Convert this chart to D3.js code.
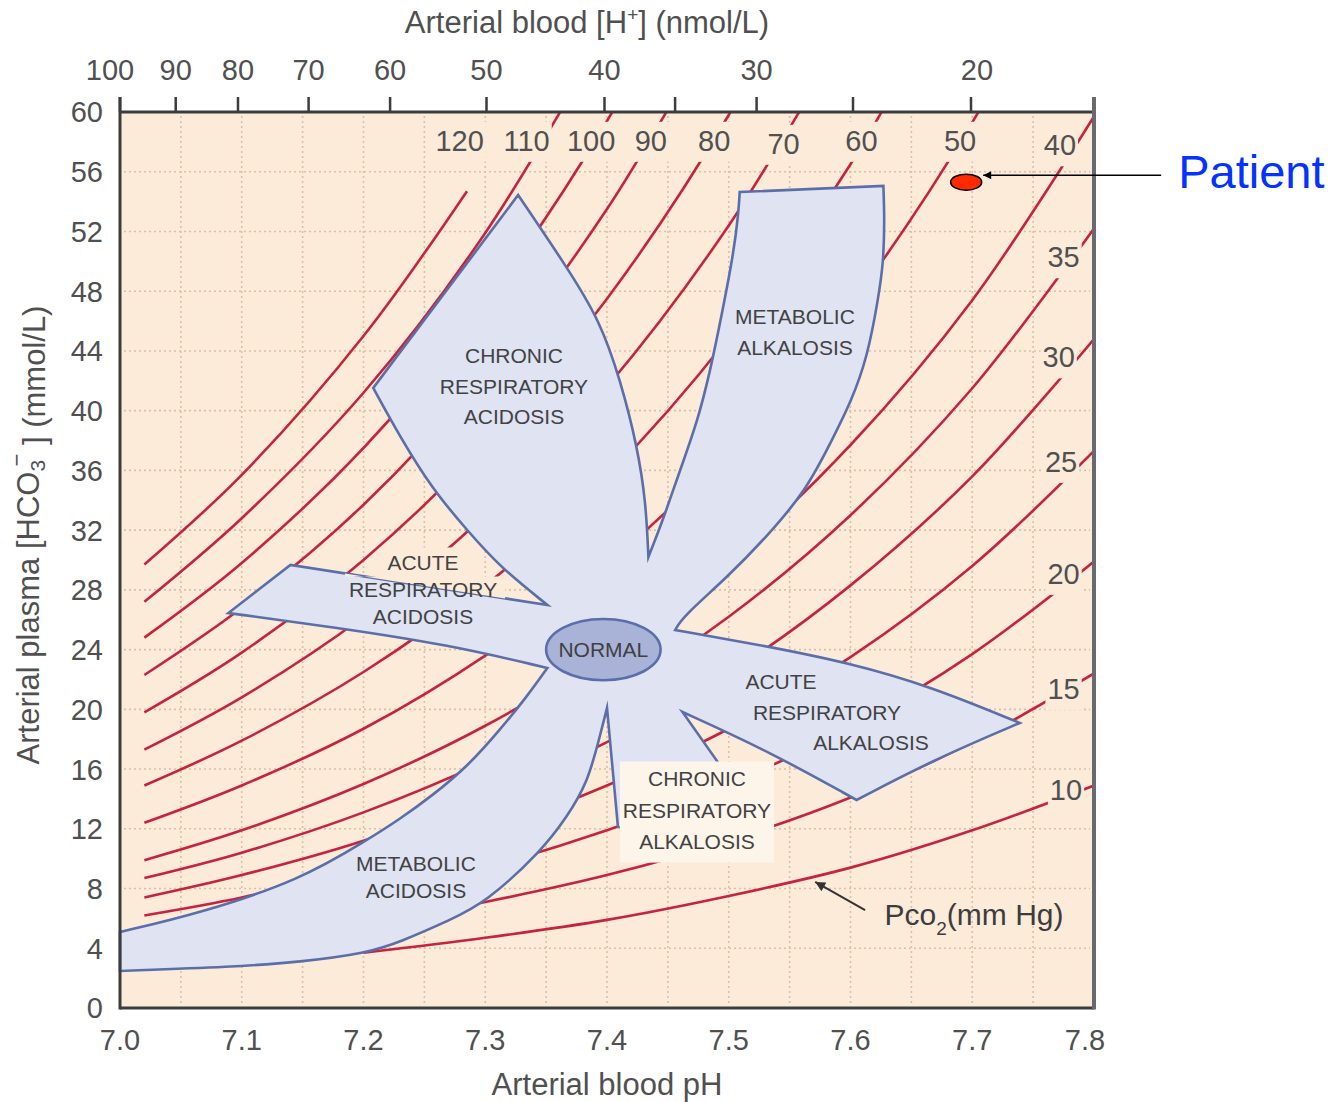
<!DOCTYPE html>
<html>
<head>
<meta charset="utf-8">
<script src="https://cdn.jsdelivr.net/npm/d3@7"></script>
<style>
body { margin: 0; background: #fff; }
svg { display: block; font-family: "Liberation Sans", Arial, sans-serif; }
</style>
</head>
<body>
<svg id="chart" width="1333" height="1102"></svg>
<script>

// ---- axis ticks ----
var phTicks = [7.0, 7.1, 7.2, 7.3, 7.4, 7.5, 7.6, 7.7, 7.8];
var hco3Ticks = [0, 4, 8, 12, 16, 20, 24, 28, 32, 36, 40, 44, 48, 52, 56, 60];
var hTicks = [100, 90, 80, 70, 60, 50, 40, 30, 20];
var hMinorTicks = [35, 25];
var gridPH = [7.05, 7.10, 7.15, 7.20, 7.25, 7.30, 7.35, 7.40, 7.45, 7.50, 7.55, 7.60, 7.65, 7.70, 7.75];
var gridHCO3 = [4, 8, 12, 16, 20, 24, 28, 32, 36, 40, 44, 48, 52, 56];

// ---- Pco2 isopleths, [pH, HCO3] ----
var pco2Values = [120, 110, 100, 90, 80, 70, 60, 50, 40, 35, 30, 25, 20, 15, 10];
var isoPoints = [
    [[7.02, 29.7], [7.1, 35.7], [7.2, 45.0], [7.285, 54.7]],
    [[7.02, 27.2], [7.1, 32.8], [7.2, 41.2], [7.3, 51.9], [7.4, 65.4]],
    [[7.02, 24.8], [7.1, 29.8], [7.2, 37.5], [7.3, 47.2], [7.4, 59.4], [7.5, 74.8]],
    [[7.02, 22.3], [7.1, 26.8], [7.2, 33.7], [7.3, 42.5], [7.4, 53.5], [7.5, 67.3]],
    [[7.02, 19.8], [7.1, 23.8], [7.2, 30.0], [7.3, 37.8], [7.4, 47.5], [7.5, 59.8], [7.6, 75.3]],
    [[7.02, 17.3], [7.1, 20.8], [7.2, 26.2], [7.3, 33.0], [7.4, 41.6], [7.5, 52.4], [7.6, 65.9]],
    [[7.02, 14.9], [7.1, 17.9], [7.2, 22.5], [7.3, 28.3], [7.4, 35.6], [7.5, 44.9], [7.6, 56.5], [7.7, 71.1]],
    [[7.02, 12.4], [7.1, 14.9], [7.2, 18.7], [7.3, 23.6], [7.4, 29.7], [7.5, 37.4], [7.6, 47.1], [7.7, 59.3], [7.8, 74.6]],
    [[7.02, 9.9], [7.1, 11.9], [7.2, 15.0], [7.3, 18.9], [7.4, 23.8], [7.5, 29.9], [7.6, 37.7], [7.7, 47.4], [7.8, 59.7]],
    [[7.02, 8.7], [7.1, 10.4], [7.2, 13.1], [7.3, 16.5], [7.4, 20.8], [7.5, 26.2], [7.6, 33.0], [7.7, 41.5], [7.8, 52.2]],
    [[7.02, 7.4], [7.1, 8.9], [7.2, 11.2], [7.3, 14.2], [7.4, 17.8], [7.5, 22.4], [7.6, 28.3], [7.7, 35.6], [7.8, 44.8]],
    [[7.02, 6.2], [7.1, 7.4], [7.2, 9.4], [7.3, 11.8], [7.4, 14.9], [7.5, 18.7], [7.6, 23.5], [7.7, 29.6], [7.8, 37.3]],
    [[7.1, 6.0], [7.2, 7.5], [7.3, 9.4], [7.4, 11.9], [7.5, 15.0], [7.6, 18.8], [7.7, 23.7], [7.8, 29.9]],
    [[7.2, 5.6], [7.3, 7.1], [7.4, 8.9], [7.5, 11.2], [7.6, 14.1], [7.7, 17.8], [7.8, 22.4]],
    [[7.2, 3.7], [7.3, 4.7], [7.4, 5.9], [7.5, 7.5], [7.6, 9.4], [7.7, 11.9], [7.8, 14.9]]
];

// ---- outline of the acid-base regions, [pH, HCO3], one piece per edge ----
var metAcidLeft = [[7.0, 2.48], [7.0, 5.09]];
var metAcidUpper = [[7.0, 5.09], [7.066, 6.36], [7.148, 8.57], [7.203, 11.25], [7.230, 12.66], [7.257, 14.26], [7.285, 16.14], [7.312, 18.62], [7.334, 20.83], [7.351, 22.77]];
var acuteAcidLower = [[7.351, 22.77], [7.271, 24.31], [7.175, 25.51], [7.089, 26.45]];
var acuteAcidTip = [[7.089, 26.45], [7.140, 29.67]];
var acuteAcidUpper = [[7.140, 29.67], [7.351, 26.99]];
var chronicAcidLower = [[7.351, 26.99], [7.312, 29.53], [7.285, 32.01], [7.257, 34.69], [7.230, 38.24], [7.208, 41.52]];
var chronicAcidLeft = [[7.208, 41.52], [7.327, 54.44]];
var chronicAcidRight = [[7.327, 54.44], [7.367, 49.62], [7.394, 46.07], [7.411, 42.05], [7.425, 37.57], [7.432, 33.82], [7.434, 30.20]];
var metAlkLeft = [[7.434, 30.20], [7.446, 32.68], [7.460, 36.03], [7.474, 39.18], [7.485, 42.72], [7.495, 46.74], [7.504, 50.56], [7.508, 53.24], [7.509, 54.64]];
var metAlkTop = [[7.509, 54.64], [7.627, 55.05]];
var metAlkRight = [[7.627, 55.05], [7.628, 52.77], [7.627, 49.89], [7.623, 47.61], [7.614, 43.59], [7.600, 40.51], [7.586, 38.24], [7.564, 34.69], [7.531, 31.54], [7.499, 28.86], [7.462, 26.18], [7.456, 25.31]];
var acuteAlkUpper = [[7.456, 25.31], [7.526, 24.31], [7.600, 23.10], [7.667, 21.50], [7.739, 19.09]];
var acuteAlkLower = [[7.739, 19.09], [7.668, 16.61], [7.605, 13.93]];
var acuteAlkInner = [[7.605, 13.93], [7.534, 17.14], [7.462, 19.82]];
var chronicAlkRight = [[7.462, 19.82], [7.491, 16.47], [7.490, 11.92], [7.409, 12.12]];
var chronicAlkLeft = [[7.409, 12.12], [7.400, 20.09]];
var metAcidLower = [[7.400, 20.09], [7.394, 18.15], [7.384, 15.07], [7.367, 12.79], [7.347, 10.58], [7.300, 7.03], [7.271, 5.89], [7.230, 4.42], [7.203, 3.68], [7.148, 3.08], [7.093, 2.75], [7.0, 2.48]];

var normalPoint = [7.397, 24.0];
var patientPoint = [7.695, 55.3];

// ---- layout ----
var PEACH = "#fcebd9", BLUE_FILL = "#dfe3f2", BLUE_EDGE = "#5a6ea9",
    RED = "#c6233e", INK = "#505050", GRID = "#dcbfa6";

var svg = d3.select("#chart");

var x = d3.scaleLinear().domain([7.0, 7.8]).range([120, 1094]),
    y = d3.scaleLinear().domain([0, 60]).range([1008, 112]),
    xH = d3.scaleLog().domain([100, Math.pow(10, 9 - 7.8)]).range([120, 1094]);

var defs = svg.append("defs");
defs.append("clipPath").attr("id", "plotClip")
    .append("rect")
        .attr("x", x(7.0)).attr("y", y(60))
        .attr("width", x(7.8) - x(7.0)).attr("height", y(0) - y(60));

defs.append("marker")
    .attr("id", "arrowHead")
    .attr("viewBox", "0 0 10 10")
    .attr("refX", 10).attr("refY", 5)
    .attr("markerWidth", 11).attr("markerHeight", 8)
    .attr("markerUnits", "userSpaceOnUse")
    .attr("orient", "auto")
    .append("path")
        .attr("d", "M0,0L10,5L0,10Z")
        .attr("fill", "#000");

defs.append("marker")
    .attr("id", "arrowHead2")
    .attr("viewBox", "0 0 10 10")
    .attr("refX", 10).attr("refY", 5)
    .attr("markerWidth", 14).attr("markerHeight", 10)
    .attr("markerUnits", "userSpaceOnUse")
    .attr("orient", "auto")
    .append("path")
        .attr("d", "M0,0L10,5L0,10Z")
        .attr("fill", "#333");

// plot background
svg.append("rect")
    .attr("x", x(7.0)).attr("y", y(60))
    .attr("width", x(7.8) - x(7.0)).attr("height", y(0) - y(60))
    .attr("fill", PEACH);

// dotted grid
var grid = svg.append("g")
    .attr("stroke", GRID)
    .attr("stroke-width", 1.6)
    .attr("stroke-dasharray", "2,3");

grid.selectAll(".gx")
    .data(gridPH)
    .enter().append("line")
        .attr("x1", function(d) { return x(d); })
        .attr("x2", function(d) { return x(d); })
        .attr("y1", y(60) + 4)
        .attr("y2", y(0) - 4);

grid.selectAll(".gy")
    .data(gridHCO3)
    .enter().append("line")
        .attr("y1", function(d) { return y(d); })
        .attr("y2", function(d) { return y(d); })
        .attr("x1", x(7.0) + 4)
        .attr("x2", x(7.8) - 4);

// isopleths
var isoLine = d3.line()
    .x(function(d) { return x(d[0]); })
    .y(function(d) { return y(d[1]); })
    .curve(d3.curveCatmullRom.alpha(0.5));

svg.append("g")
    .attr("clip-path", "url(#plotClip)")
    .selectAll("path")
    .data(isoPoints)
    .enter().append("path")
        .attr("d", isoLine)
        .attr("fill", "none")
        .attr("stroke", RED)
        .attr("stroke-width", 2.6);

// regions outline
var pieces = [
    {pts: metAcidLeft, smooth: false},
    {pts: metAcidUpper, smooth: true},
    {pts: acuteAcidLower, smooth: true},
    {pts: acuteAcidTip, smooth: false},
    {pts: acuteAcidUpper, smooth: false},
    {pts: chronicAcidLower, smooth: true},
    {pts: chronicAcidLeft, smooth: false},
    {pts: chronicAcidRight, smooth: true},
    {pts: metAlkLeft, smooth: true},
    {pts: metAlkTop, smooth: false},
    {pts: metAlkRight, smooth: true},
    {pts: acuteAlkUpper, smooth: true},
    {pts: acuteAlkLower, smooth: true},
    {pts: acuteAlkInner, smooth: true},
    {pts: chronicAlkRight, smooth: false},
    {pts: chronicAlkLeft, smooth: false},
    {pts: metAcidLower, smooth: true}
];

function outlinePath(list) {
    var d = "";
    list.forEach(function(p, i) {
        var gen = d3.line()
            .x(function(v) { return x(v[0]); })
            .y(function(v) { return y(v[1]); })
            .curve(p.smooth ? d3.curveBasis : d3.curveLinear);
        var s = gen(p.pts);
        d += (i === 0) ? s : s.replace(/^M[^A-Za-z]*/, "");
    });
    return d + "Z";
}

svg.append("path")
    .attr("d", outlinePath(pieces))
    .attr("fill", BLUE_FILL)
    .attr("stroke", BLUE_EDGE)
    .attr("stroke-width", 2.6)
    .attr("stroke-linejoin", "miter")
    .attr("stroke-miterlimit", 20);

// region labels
var regionLabels = [
    {lines: ["CHRONIC", "RESPIRATORY", "ACIDOSIS"], at: [[7.3236, 43.73], [7.3236, 41.65], [7.3236, 39.58]]},
    {lines: ["METABOLIC", "ALKALOSIS"], at: [[7.5544, 46.34], [7.5544, 44.26]]},
    {lines: ["ACUTE", "RESPIRATORY", "ACIDOSIS"], at: [[7.2489, 29.87], [7.2489, 28.06], [7.2489, 26.25]], cover: true},
    {lines: ["ACUTE", "RESPIRATORY", "ALKALOSIS"], at: [[7.5429, 21.90], [7.5807, 19.82], [7.6168, 17.75]]},
    {lines: ["CHRONIC", "RESPIRATORY", "ALKALOSIS"], at: [[7.4739, 15.34], [7.4739, 13.26], [7.4739, 11.18]], box: true},
    {lines: ["METABOLIC", "ACIDOSIS"], at: [[7.2431, 9.71], [7.2431, 7.90]]}
];

var labelLayer = svg.append("g");

regionLabels.forEach(function(r) {
    var g = labelLayer.append("g");
    var bg = g.append("g");
    var texts = g.selectAll("text")
        .data(r.lines)
        .enter().append("text")
            .attr("x", function(d, i) { return x(r.at[i][0]); })
            .attr("y", function(d, i) { return y(r.at[i][1]); })
            .attr("dy", "0.36em")
            .attr("text-anchor", "middle")
            .attr("font-size", 21)
            .attr("fill", "#424242")
            .text(function(d) { return d; });

    if (r.box) {
        var bb = g.node().getBBox();
        bg.append("rect")
            .attr("x", bb.x - 3).attr("y", bb.y - 6)
            .attr("width", bb.width + 6).attr("height", bb.height + 16)
            .attr("fill", "#fdf4ea");
    }
    if (r.cover) {
        // plot-coloured patch behind the first two lines, down to the hidden upper edge
        var b0 = texts.nodes()[0].getBBox(),
            b1 = texts.nodes()[1].getBBox();
        var x0 = b1.x - 4, x1 = b1.x + b1.width + 8,
            p0 = acuteAcidUpper[0], p1 = acuteAcidUpper[1];
        var edgeY = function(px) {
            var t = (px - x(p0[0])) / (x(p1[0]) - x(p0[0]));
            return y(p0[1]) + t * (y(p1[1]) - y(p0[1]));
        };
        var top0 = b0.y - 3, top1 = b1.y - 1;
        bg.append("path")
            .attr("d", "M" + x0 + "," + top1 +
                "L" + (b0.x - 8) + "," + top1 + "L" + (b0.x - 8) + "," + top0 +
                "L" + (b0.x + b0.width + 8) + "," + top0 + "L" + (b0.x + b0.width + 8) + "," + top1 +
                "L" + x1 + "," + top1 +
                "L" + x1 + "," + edgeY(x1) + "L" + x0 + "," + edgeY(x0) + "Z")
            .attr("fill", PEACH);
    }
});

// NORMAL ellipse
svg.append("ellipse")
    .attr("cx", x(normalPoint[0]))
    .attr("cy", y(normalPoint[1]))
    .attr("rx", x(normalPoint[0] + 0.047) - x(normalPoint[0]))
    .attr("ry", y(normalPoint[1] - 2.05) - y(normalPoint[1]))
    .attr("fill", "#a9b3d8")
    .attr("stroke", BLUE_EDGE)
    .attr("stroke-width", 2.6);

svg.append("text")
    .attr("x", x(normalPoint[0]))
    .attr("y", y(normalPoint[1]))
    .attr("dy", "0.36em")
    .attr("text-anchor", "middle")
    .attr("font-size", 21)
    .attr("fill", "#404040")
    .text("NORMAL");

// Pco2 value labels, each on a patch of plot colour
var pco2LabelAt = [
    [7.279, 58.1], [7.334, 58.1], [7.387, 58.1], [7.436, 58.1], [7.488, 58.1],
    [7.545, 57.9], [7.609, 58.1], [7.690, 58.1], [7.772, 57.8],
    [7.775, 50.3], [7.771, 43.6], [7.773, 36.6], [7.775, 29.1], [7.775, 21.4], [7.777, 14.6]
];

var valLabels = svg.append("g");
pco2Values.forEach(function(v, i) {
    var g = valLabels.append("g");
    var t = g.append("text")
        .attr("x", x(pco2LabelAt[i][0]))
        .attr("y", y(pco2LabelAt[i][1]))
        .attr("dy", "0.36em")
        .attr("text-anchor", "middle")
        .attr("font-size", 29)
        .attr("fill", INK)
        .text(v);
    var bb = t.node().getBBox();
    g.insert("rect", "text")
        .attr("x", bb.x - 2).attr("y", bb.y - 3)
        .attr("width", bb.width + 4).attr("height", bb.height + 8)
        .attr("fill", PEACH);
});

// frame
var frame = svg.append("g").attr("fill", "none");
frame.append("line")
    .attr("x1", x(7.0)).attr("x2", x(7.0))
    .attr("y1", y(60) - 15).attr("y2", y(0) + 1.5)
    .attr("stroke", "#3c3c3c").attr("stroke-width", 3);
frame.append("line")
    .attr("x1", x(7.0)).attr("x2", x(7.8))
    .attr("y1", y(60)).attr("y2", y(60))
    .attr("stroke", "#3c3c3c").attr("stroke-width", 3);
frame.append("line")
    .attr("x1", x(7.0)).attr("x2", x(7.8))
    .attr("y1", y(0)).attr("y2", y(0))
    .attr("stroke", "#3c3c3c").attr("stroke-width", 3);
frame.append("line")
    .attr("x1", x(7.8)).attr("x2", x(7.8))
    .attr("y1", y(60) - 15).attr("y2", y(0) + 1.5)
    .attr("stroke", "#6a6a6a").attr("stroke-width", 4);

// top [H+] axis
frame.selectAll(".ht")
    .data(hTicks.concat(hMinorTicks))
    .enter().append("line")
        .attr("x1", function(d) { return xH(d); })
        .attr("x2", function(d) { return xH(d); })
        .attr("y1", y(60))
        .attr("y2", y(60) - 15)
        .attr("stroke", "#3c3c3c")
        .attr("stroke-width", 2.5);

svg.append("g").selectAll("text")
    .data(hTicks)
    .enter().append("text")
        .attr("x", function(d, i) { return xH(d) + (i === 0 ? -10 : 0) + (d === 20 ? 6 : 0); })
        .attr("y", 70)
        .attr("dy", "0.36em")
        .attr("text-anchor", "middle")
        .attr("font-size", 29)
        .attr("fill", INK)
        .text(function(d) { return d; });

// left HCO3 axis labels
svg.append("g").selectAll("text")
    .data(hco3Ticks)
    .enter().append("text")
        .attr("x", x(7.0) - 17)
        .attr("y", function(d) { return y(d); })
        .attr("dy", "0.36em")
        .attr("text-anchor", "end")
        .attr("font-size", 29)
        .attr("fill", INK)
        .text(function(d) { return d; });

// bottom pH axis labels
svg.append("g").selectAll("text")
    .data(phTicks)
    .enter().append("text")
        .attr("x", function(d, i) { return x(d) + (i === phTicks.length - 1 ? -9 : 0); })
        .attr("y", y(0) + 32)
        .attr("dy", "0.36em")
        .attr("text-anchor", "middle")
        .attr("font-size", 29)
        .attr("fill", INK)
        .text(function(d) { return d.toFixed(1); });

// axis titles
var topTitle = svg.append("text")
    .attr("x", 587).attr("y", 33)
    .attr("text-anchor", "middle")
    .attr("font-size", 31)
    .attr("fill", INK);
topTitle.append("tspan").text("Arterial blood [H");
topTitle.append("tspan").attr("font-size", 19).attr("dy", "-0.65em").text("+");
topTitle.append("tspan").attr("dy", "0.4em").text("] (nmol/L)");

svg.append("text")
    .attr("x", x(7.4)).attr("y", 1095)
    .attr("text-anchor", "middle")
    .attr("font-size", 31)
    .attr("fill", INK)
    .text("Arterial blood pH");

var leftTitle = svg.append("text")
    .attr("transform", "translate(39,535) rotate(-90)")
    .attr("text-anchor", "middle")
    .attr("font-size", 31)
    .attr("fill", INK);
leftTitle.append("tspan").text("Arterial plasma [HCO");
leftTitle.append("tspan").attr("font-size", 21).attr("dy", "0.3em").text("3");
leftTitle.append("tspan").attr("font-size", 22).attr("dx", "-0.3em").attr("dy", "-0.95em").text("\u2212");
leftTitle.append("tspan").attr("dy", "0.65em").text(" ] (mmol/L)");

// Pco2 (mm Hg) key with arrow
var keyText = svg.append("text")
    .attr("x", x(7.628)).attr("y", y(6.3))
    .attr("dy", "0.36em")
    .attr("font-size", 30)
    .attr("fill", "#3c3c3c");
keyText.append("tspan").text("Pco");
keyText.append("tspan").attr("font-size", 19).attr("dy", "0.55em").text("2");
keyText.append("tspan").attr("dy", "-0.35em").text("(mm Hg)");

svg.append("line")
    .attr("x1", x(7.612)).attr("y1", y(6.56))
    .attr("x2", x(7.571)).attr("y2", y(8.44))
    .attr("stroke", "#333")
    .attr("stroke-width", 2)
    .attr("marker-end", "url(#arrowHead2)");

// patient marker
var px = x(patientPoint[0]), py = y(patientPoint[1]);
svg.append("line")
    .attr("x1", px + 195).attr("y1", py - 7)
    .attr("x2", px + 17).attr("y2", py - 7)
    .attr("stroke", "#000")
    .attr("stroke-width", 1.6)
    .attr("marker-end", "url(#arrowHead)");

svg.append("ellipse")
    .attr("cx", px).attr("cy", py)
    .attr("rx", 15.5).attr("ry", 8)
    .attr("fill", "#ff2a00")
    .attr("stroke", "#000")
    .attr("stroke-width", 1.6);

svg.append("text")
    .attr("x", px + 212).attr("y", py + 6)
    .attr("font-size", 47)
    .attr("fill", "#0433ff")
    .text("Patient");

</script>
</body>
</html>
